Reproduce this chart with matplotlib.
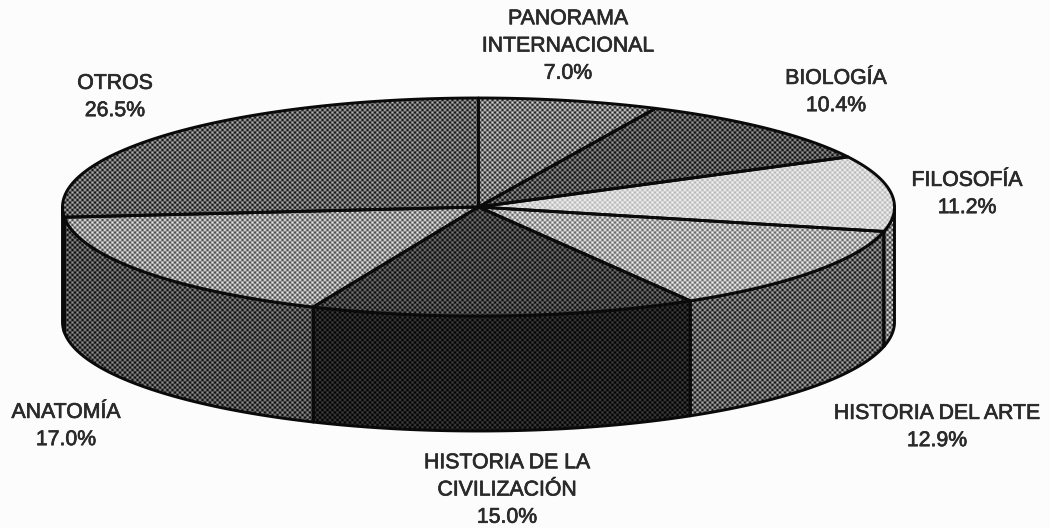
import numpy as np
import matplotlib
matplotlib.use("Agg")
import matplotlib.pyplot as plt
import matplotlib.patheffects as pe
from matplotlib.patches import Polygon

labels = ["PANORAMA\nINTERNACIONAL", "BIOLOGÍA", "FILOSOFÍA", "HISTORIA DEL ARTE",
          "HISTORIA DE LA\nCIVILIZACIÓN", "ANATOMÍA", "OTROS"]
values = [7.0, 10.4, 11.2, 12.9, 15.0, 17.0, 26.5]
top_shade = [(120, 95), (80, 75), (212, 32), (170, 75), (62, 60), (150, 85), (95, 85)]
side_shade = [(90, 70), (70, 60), (135, 90), (92, 82), (30, 34), (75, 72), (60, 60)]
label_pos = [(568, 46), (836, 92), (967, 194), (937, 427), (507, 490), (66, 426), (115, 97)]

W, H = 1050, 528
CX, CY, A, B, DEPTH = 478.5, 207, 416, 109, 115
PERIOD = 5.0

fig = plt.figure(figsize=(W / 100, H / 100), dpi=100, facecolor="#fcfcfc")
ax = fig.add_axes([0, 0, 1, 1])
ax.set_xlim(0, W)
ax.set_ylim(H, 0)
ax.axis("off")

yy, xx = np.mgrid[0:H, 0:W] + 0.5
weave = np.cos(2 * np.pi * xx / PERIOD) * np.cos(2 * np.pi * yy / PERIOD)


def rim(a0, a1, dy=0.0):
    t = np.radians(np.linspace(a0, a1, 200))
    return np.column_stack([CX + A * np.sin(t), CY - B * np.cos(t) + dy])


def textured(poly_xy, shade, z):
    mean, amp = shade
    g = mean / 255
    patch = Polygon(poly_xy, closed=True, facecolor=(g, g, g), edgecolor="none", zorder=z)
    ax.add_patch(patch)
    img = ax.imshow(np.clip(mean + amp * weave, 0, 255), cmap="gray", vmin=0, vmax=255,
                    extent=(0, W, H, 0), interpolation="bilinear", aspect="auto", zorder=z + 0.1)
    img.set_clip_path(Polygon(poly_xy, closed=True, transform=ax.transData))
    ax.add_patch(Polygon(poly_xy, closed=True, fill=False, edgecolor="#0a0a0a",
                         linewidth=2.1, joinstyle="round", zorder=z + 0.2))


edges = np.concatenate([[0], np.cumsum(values)]) / np.sum(values) * 360

# side walls: only the part of each slice that faces the viewer
for i in range(len(values)):
    a0, a1 = max(edges[i], 90), min(edges[i + 1], 270)
    if a1 > a0:
        wall = np.vstack([rim(a0, a1), rim(a1, a0, DEPTH)])
        textured(wall, side_shade[i], 1 + i * 0.01)

# top faces
for i in range(len(values)):
    face = np.vstack([[[CX, CY]], rim(edges[i], edges[i + 1])])
    textured(face, top_shade[i], 3 + i * 0.01)

ax.set_xlim(0, W)
ax.set_ylim(H, 0)

for lab, val, (x, y) in zip(labels, values, label_pos):
    t = ax.text(x, y, f"{lab}\n{val:.1f}%", ha="center", va="center", fontsize=15.3,
                family="Liberation Sans", color="#2a2a2a", linespacing=1.55, zorder=6)
    t.set_path_effects([pe.withStroke(linewidth=0.5, foreground="#2a2a2a")])

fig.savefig("out.png", dpi=100, facecolor=fig.get_facecolor())
